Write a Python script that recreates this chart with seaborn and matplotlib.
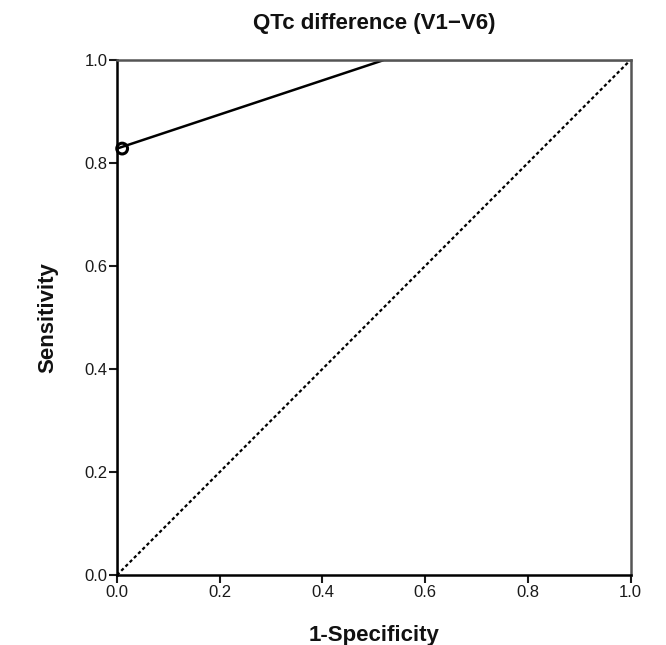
import matplotlib
matplotlib.use("Agg")
import matplotlib.pyplot as plt
import seaborn as sns

# ROC curve points (1-Specificity, Sensitivity)
fpr = [0.0, 0.0, 0.52, 1.0]
tpr = [0.0, 0.828, 1.0, 1.0]
ref_x = [0.0, 1.0]
ref_y = [0.0, 1.0]
cut_x = [0.01]
cut_y = [0.828]
ticks = [0.0, 0.2, 0.4, 0.6, 0.8, 1.0]

sns.set_style("white")
plt.rcParams["font.family"] = ["Liberation Sans", "DejaVu Sans"]

fig = plt.figure(figsize=(6.66, 6.45), dpi=100)
ax = fig.add_axes([0.1757, 0.1085, 0.771, 0.7985])

sns.lineplot(x=fpr, y=tpr, ax=ax, color="black", linewidth=1.8, sort=False,
             estimator=None)
sns.lineplot(x=ref_x, y=ref_y, ax=ax, color="black", linewidth=1.6,
             linestyle=(0, (1.5, 1.2)), estimator=None)
ax.scatter(cut_x, cut_y, s=60, facecolors="none", edgecolors="black",
           linewidths=2.2, zorder=5, clip_on=False)

ax.set_xlim(0, 1)
ax.set_ylim(0, 1)
ax.set_xticks(ticks)
ax.set_yticks(ticks)
ax.set_xticklabels([f"{t:.1f}" for t in ticks])
ax.set_yticklabels([f"{t:.1f}" for t in ticks])
ax.tick_params(axis="both", direction="out", length=6, width=1.5,
               labelsize=12, colors="#1a1a1a", bottom=True, left=True, pad=1)

for side in ["left", "bottom"]:
    ax.spines[side].set_color("black")
    ax.spines[side].set_linewidth(1.8)
for side in ["top", "right"]:
    ax.spines[side].set_color("#555555")
    ax.spines[side].set_linewidth(1.8)

ax.set_title("QTc difference (V1\u2212V6)", fontsize=16, fontweight="bold",
             pad=22, color="#111111")
ax.set_xlabel("1-Specificity", fontsize=16, fontweight="bold", color="#111111")
ax.set_ylabel("Sensitivity", fontsize=16, fontweight="bold", color="#111111")
ax.xaxis.set_label_coords(0.5, -0.098)
ax.yaxis.set_label_coords(-0.115, 0.5)

fig.savefig("out.png", dpi=100)
